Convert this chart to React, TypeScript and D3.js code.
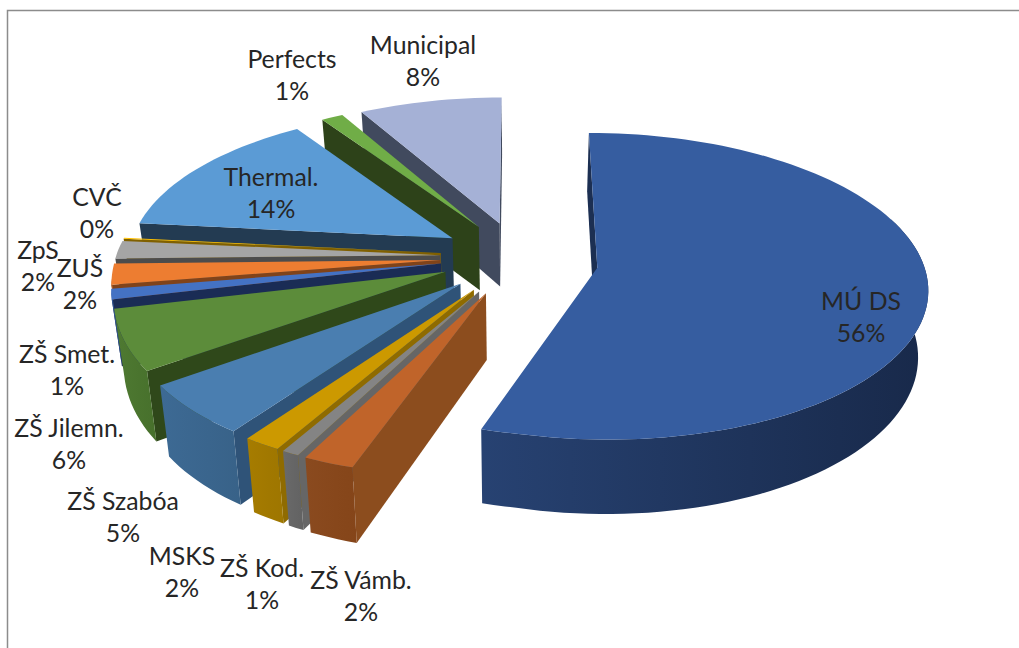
import React from 'react';
import * as d3 from 'd3';

const categories = ['MÚ DS', 'ZŠ Vámb.', 'ZŠ Kod.', 'MSKS', 'ZŠ Szabóa', 'ZŠ Jilemn.', 'ZŠ Smet.', 'ZUŠ', 'ZpS', 'CVČ', 'Thermal.', 'Perfects', 'Municipal'];
// slice sizes, printed labels are the rounded ones below
const shares = [55.55, 2.26, 0.77, 1.67, 5.42, 6, 1, 2, 1.9, 0.1, 13.97, 1.24, 8.12];
const printed = [56, 2, 1, 2, 5, 6, 1, 2, 2, 0, 14, 1, 8];

const topColors = ['#365da0', '#c0642a', '#848484', '#cc9900', '#4a7eb0', '#5c8c3a', '#4472c4', '#ed7d31', '#a5a5a5', '#ffc000', '#5b9bd5', '#70ad47', '#a5b1d6'];
const sideColors = ['#1c2f52', '#8c4d1e', '#666666', '#8f6b00', '#2f5378', '#2f481a', '#1a2c55', '#80431a', '#4c4c4c', '#806000', '#233b52', '#2d4219', '#414a5e'];
const rimLight = ['#274272', '#8a4a1f', '#6a6a6a', '#a67c00', '#3d6a94', '#4f7a32', '#2f5597', '#b85f24', '#7c7c7c', '#bf9000', '#3f719d', '#557f36', '#7a84a0'];
const rimDark = ['#18294a', '#854519', '#626262', '#9e7600', '#386288', '#47702c', '#2a4c88', '#a85620', '#707070', '#a98000', '#38658c', '#4b7030', '#6c7690'];

// label centres
const labelX = [861, 361, 262, 182, 123, 69, 67, 80, 38, 97, 271, 292, 423];
const labelY = [301, 580, 568, 556, 501, 428, 354, 268, 250, 197, 177, 59, 45];

const W = 1019;
const H = 648;
const cx = 519;
const cy = 259;
const radiusX = 325;
const radiusY = 149;
const persp = 0.12;
const depth = 65;
const explodeX = 0.243;
const explodeY = 0.25;
const explodeTilt = 0.015;
const frontLeftSag = 14; // the reference's front left sits lower than a plain ellipse
const converge = 0.025; // verticals lean in towards the centre going down

const project = (x: number, y: number, drop = 0): [number, number] => {
  const s = 1 / (1 + persp * y);
  const sag = x < 0 && y < 0 ? frontLeftSag * x * y : 0;
  return [cx + radiusX * x * s * (1 - converge * drop), cy - radiusY * y * s + sag + drop * depth * s];
};

const pieAngles = d3.pie<number>().sort(null).value(d => d).startAngle(0).endAngle(2 * Math.PI)(shares);
const line = d3.line<[number, number]>();

const slices = pieAngles.map((p, i) => {
  const mid = (p.startAngle + p.endAngle) / 2;
  const ox = explodeX * Math.sin(mid);
  const oy = explodeY * Math.cos(mid) - explodeTilt * Math.sin(mid);
  const steps = Math.max(2, Math.ceil((p.endAngle - p.startAngle) * 30));
  const angles = d3.range(steps + 1).map(k => p.startAngle + ((p.endAngle - p.startAngle) * k) / steps);
  const at = (a: number, drop = 0) => project(ox + Math.sin(a), oy + Math.cos(a), drop);
  const apexTop = project(ox, oy);
  const apexBot = project(ox, oy, 1);
  const midRim = at(mid);

  const wallVisible = (a: number) => {
    const r = at(a);
    const ex = r[0] - apexTop[0];
    const ey = r[1] - apexTop[1];
    const crossDown = ex;
    const crossIn = ex * (midRim[1] - apexTop[1]) - ey * (midRim[0] - apexTop[0]);
    return crossDown * crossIn < 0;
  };
  const wall = (a: number) => line([apexTop, at(a), at(a, 1), apexBot]) + 'Z';

  // only the part of the rim that faces the viewer
  const rimAngles = angles.filter(a => a > 1.2 && a < 4.6);
  const rimPath = rimAngles.length > 1
    ? line([...rimAngles.map(a => at(a)), ...rimAngles.slice().reverse().map(a => at(a, 1))]) + 'Z'
    : null;

  return {
    i,
    top: line([apexTop, ...angles.map(a => at(a))]) + 'Z',
    rim: rimPath,
    walls: [p.startAngle, p.endAngle].filter(wallVisible).map(wall),
  };
});

const App: React.FC = () => (
  <svg width={W} height={H} style={{ position: 'absolute', left: 0, top: 0 }} fontFamily="Lato, 'Open Sans', sans-serif">
    <defs>
      {slices.map(s => (
        <linearGradient key={s.i} id={`rim-${s.i}`} x1="0" x2="1" y1="0" y2="0">
          <stop offset="0" stopColor={rimLight[s.i]} />
          <stop offset="0.6" stopColor={d3.interpolateRgb(rimLight[s.i], rimDark[s.i])(0.6)} />
          <stop offset="1" stopColor={rimDark[s.i]} />
        </linearGradient>
      ))}
    </defs>
    <rect width={W} height={H} fill="#fff" />
    <path d={`M7.5,${H}V10.5H${W}`} fill="none" stroke="#8c8c8c" strokeWidth={1.5} />
    {slices.slice().reverse().map(s => (
      <g key={s.i}>
        {s.walls.map((d, j) => <path key={j} d={d} fill={sideColors[s.i]} />)}
        {s.rim && <path d={s.rim} fill={`url(#rim-${s.i})`} />}
        <path d={s.top} fill={topColors[s.i]} />
      </g>
    ))}
    {categories.map((c, i) => (
      <text key={c} x={labelX[i]} y={labelY[i]} textAnchor="middle" fontSize={24.8} fill="#262626">
        <tspan x={labelX[i]} dy="0.35em">{c}</tspan>
        <tspan x={labelX[i]} dy={32}>{printed[i]}%</tspan>
      </text>
    ))}
  </svg>
);

export default App;
